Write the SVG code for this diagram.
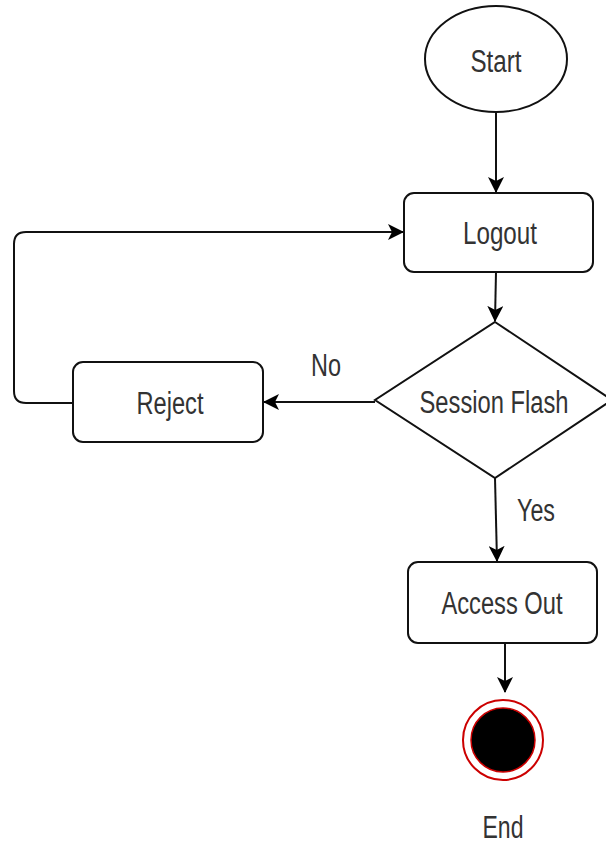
<svg xmlns="http://www.w3.org/2000/svg" width="606" height="845" viewBox="0 0 606 845">
<style>
.shape{fill:#fff;stroke:#111;stroke-width:2}
.edge{fill:none;stroke:#111;stroke-width:2}
text{font-family:"Liberation Sans",Arial,sans-serif;font-size:31px;fill:#333;text-anchor:middle}
</style>
<defs>
<marker id="arr" viewBox="0 0 16 16" refX="15" refY="8" markerWidth="16" markerHeight="16" markerUnits="userSpaceOnUse" orient="auto">
<path d="M0,0 L16,8 L0,16 L4,8 Z" fill="#000"/>
</marker>
</defs>
<g id="connectors">
<path class="edge" d="M496,112 L496,192" marker-end="url(#arr)"/>
<path class="edge" d="M496,272 L495,321" marker-end="url(#arr)"/>
<path class="edge" d="M375,402 L264,402" marker-end="url(#arr)"/>
<path class="edge" d="M73,403 L26,403 Q14,403 14,391 L14,244 Q14,232 26,232 L403,232" marker-end="url(#arr)"/>
<path class="edge" d="M495,478 L497,561" marker-end="url(#arr)"/>
<path class="edge" d="M505,643 L505,692" marker-end="url(#arr)"/>
<text x="326" y="376" textLength="30" lengthAdjust="spacingAndGlyphs">No</text>
<text x="536" y="521" textLength="38" lengthAdjust="spacingAndGlyphs">Yes</text>
</g>
<g id="start">
<ellipse class="shape" cx="496" cy="59" rx="71" ry="53"/>
<text x="496" y="72" textLength="51" lengthAdjust="spacingAndGlyphs">Start</text>
</g>
<g id="logout">
<rect class="shape" x="404" y="193" width="189" height="79" rx="10"/>
<text x="500" y="244" textLength="74" lengthAdjust="spacingAndGlyphs">Logout</text>
</g>
<g id="session">
<path class="shape" d="M495,322 L612,400 L495,478 L375,400 Z"/>
<text x="494" y="413" textLength="149" lengthAdjust="spacingAndGlyphs">Session Flash</text>
</g>
<g id="reject">
<rect class="shape" x="73" y="362" width="190" height="80" rx="10"/>
<text x="170" y="414" textLength="67" lengthAdjust="spacingAndGlyphs">Reject</text>
</g>
<g id="access">
<rect class="shape" x="408" y="562" width="189" height="81" rx="10"/>
<text x="502" y="614" textLength="121" lengthAdjust="spacingAndGlyphs">Access Out</text>
</g>
<g id="end">
<circle cx="503" cy="740" r="40" fill="#fff" stroke="#c00" stroke-width="2"/>
<circle cx="503" cy="740" r="32" fill="#000" stroke="#c00" stroke-width="1.5"/>
<text x="503" y="838" textLength="41" lengthAdjust="spacingAndGlyphs">End</text>
</g>
</svg>
